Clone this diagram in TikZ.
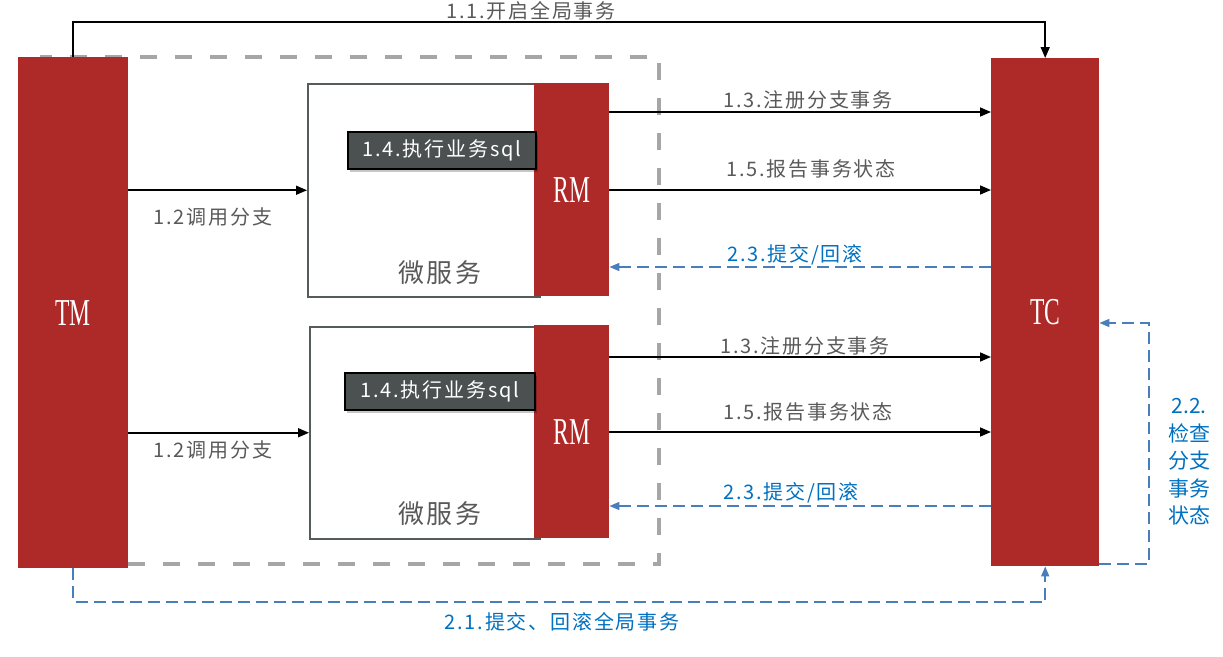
\documentclass[tikz,border=0pt]{standalone}
\usepackage{fontspec}
\newfontfamily\cjk[LetterSpace=9]{Noto Sans CJK SC}
\newfontfamily\cjkplain{Noto Sans CJK SC}
\newfontfamily\tmfont[FakeStretch=0.62]{Liberation Serif}
\usetikzlibrary{arrows.meta,shadows}
\definecolor{redbar}{HTML}{AE2A28}
\definecolor{boxgray}{HTML}{555A5A}
\definecolor{sqlfill}{HTML}{4A5150}
\definecolor{labgray}{HTML}{595959}
\definecolor{labblue}{HTML}{0070C0}
\definecolor{lineblue}{HTML}{4A7EBB}
\definecolor{dashgray}{HTML}{A6A6A6}
\tikzset{
  bar/.style={fill=redbar, draw=none, text=white, font=\tmfont\fontsize{38}{38}\selectfont, inner sep=0pt, anchor=north west},
  svcbox/.style={draw=boxgray, line width=1.5pt, fill=white, inner sep=0pt, anchor=north west},
  sqlbox/.style={draw=black, line width=1.5pt, fill=sqlfill, text=white, font=\cjk\fontsize{20}{20}\selectfont, inner sep=0pt, anchor=north west, drop shadow={shadow xshift=2pt, shadow yshift=-3pt, fill=black, opacity=0.22}},
  lbl/.style={font=\cjk\fontsize{20}{24}\selectfont, text=labgray, inner sep=0pt},
  blbl/.style={lbl, text=labblue},
  svclbl/.style={font=\cjk\fontsize{26}{26}\selectfont, text=labgray, inner sep=0pt},
  arr/.style={draw=black, line width=1.6pt, -{Triangle[length=11pt,width=9pt]}},
  barr/.style={draw=lineblue, line width=1.6pt, dash pattern=on 12pt off 6pt, -{Triangle[length=10pt,width=8pt]}},
  gdash/.style={draw=dashgray, line width=4pt, dash pattern=on 17pt off 18pt}
}
\begin{document}
\begin{tikzpicture}[x=1pt,y=-1pt]
\useasboundingbox (0,0) rectangle (1223,656);
% gray dashed frame
\draw[gdash] (40,57) rectangle (659,564);
% bars
\node[bar, minimum width=110pt, minimum height=511pt] (TM) at (18,57) {TM};
\node[bar, minimum width=108pt, minimum height=508pt] (TC) at (991,58) {TC};
% service 1
\node[svcbox, minimum width=232pt, minimum height=213pt] (box1) at (307,83) {};
\node[bar, minimum width=75pt, minimum height=213pt] (RM1) at (534,83) {RM};
\node[sqlbox, minimum width=188pt, minimum height=37pt] (sql1) at (347,131) {1.4.执行业务sql};
\node[svclbl] (svc1) at (440,273) {微服务};
% service 2
\node[svcbox, minimum width=230pt, minimum height=212pt] (box2) at (309,326) {};
\node[bar, minimum width=75pt, minimum height=213pt] (RM2) at (534,325) {RM};
\node[sqlbox, minimum width=190pt, minimum height=37pt] (sql2) at (344,372) {1.4.执行业务sql};
\node[svclbl] (svc2) at (440,514) {微服务};
% 1.1
\draw[arr] (TM.north) -- (TM.north |- 0,22) -| (TC.north);
\node[lbl] (l11) at (531,11) {1.1.开启全局事务};
% 1.2
\draw[arr] (box1.west -| TM.east) -- (box1.west);
\node[lbl] (l12a) at (213,217) {1.2调用分支};
\draw[arr] (box2.west -| TM.east) -- (box2.west);
\node[lbl] (l12b) at (213,450) {1.2调用分支};
% RM1 <-> TC
\draw[arr] (RM1.east |- 0,112) -- (TC.west |- 0,112);
\node[lbl] (l13a) at (808,100) {1.3.注册分支事务};
\draw[arr] (RM1.east |- 0,190) -- (TC.west |- 0,190);
\node[lbl] (l15a) at (811,169) {1.5.报告事务状态};
\draw[barr] (TC.west |- 0,267) -- (RM1.east |- 0,267);
\node[blbl] (l23a) at (795,255) {2.3.提交/回滚};
% RM2 <-> TC
\draw[arr] (RM2.east |- 0,357) -- (TC.west |- 0,357);
\node[lbl] (l13b) at (805,346) {1.3.注册分支事务};
\draw[arr] (RM2.east |- 0,432) -- (TC.west |- 0,432);
\node[lbl] (l15b) at (808,412) {1.5.报告事务状态};
\draw[barr] (TC.west |- 0,506) -- (RM2.east |- 0,506);
\node[blbl] (l23b) at (791,493) {2.3.提交/回滚};
% 2.2
\coordinate (c22) at (1149,323);
\draw[barr] (TC.east |- 0,564) -| (c22) -- (c22 -| TC.east);
\node[blbl, align=center, font=\cjkplain\fontsize{21}{27.5}\selectfont] (l22) at (1189,462) {2.2.\\检查\\分支\\事务\\状态};
% 2.1
\draw[barr] (TM.south) -- (TM.south |- 0,602) -| (TC.south);
\node[blbl] (l21) at (562,622) {2.1.提交、回滚全局事务};
\end{tikzpicture}
\end{document}
